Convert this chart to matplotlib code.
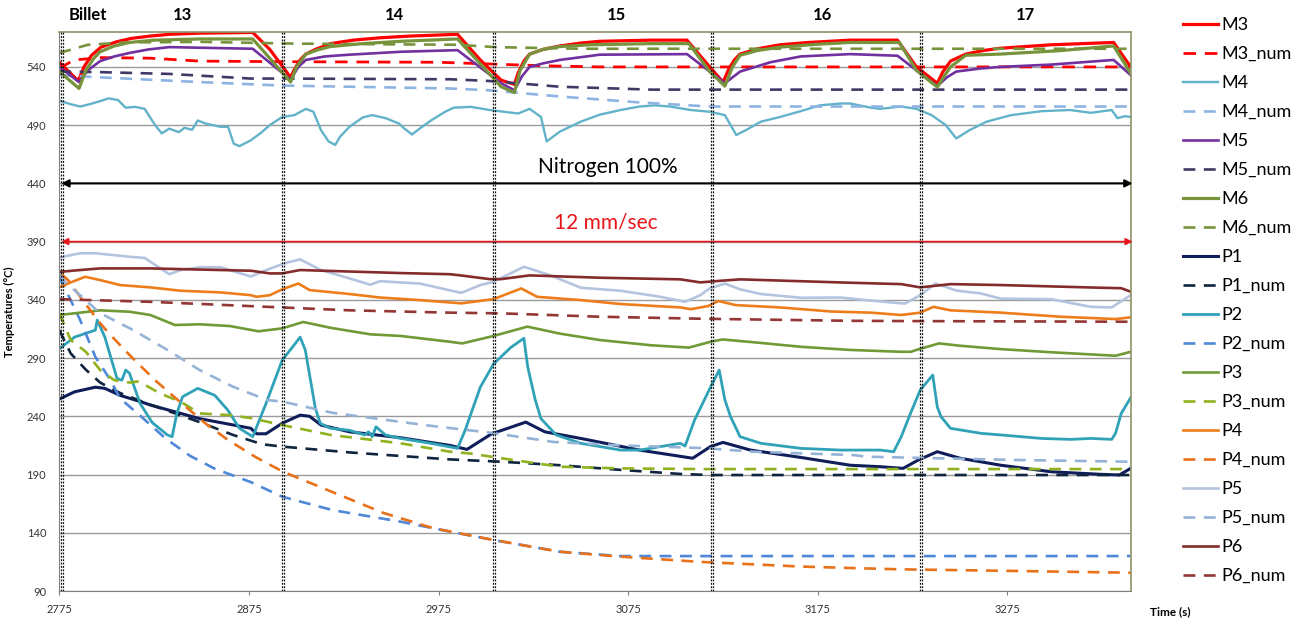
import matplotlib
matplotlib.use("Agg")
import matplotlib.pyplot as plt

plt.rcParams['font.family'] = ['Lato', 'DejaVu Sans']

# --- measured temperatures (time in s, temperature in degC) ---
m3_t = [2775, 2785, 2788, 2792, 2797, 2805, 2813, 2823, 2833, 2849, 2877, 2886, 2897,
        2899, 2902, 2905, 2910, 2918, 2930, 2944, 2960, 2985,
        2997, 3008, 3015, 3017, 3020, 3023, 3030, 3039, 3050, 3060, 3087, 3106,
        3118, 3125, 3128, 3131, 3134, 3143, 3155, 3170, 3192, 3217,
        3227, 3238, 3241, 3245, 3253, 3262, 3271, 3298, 3331, 3340]
m3 = [544, 528, 540, 550, 557, 561.5, 564.5, 566.5, 568, 569, 569.6, 555, 531,
      538, 546, 551, 555, 560, 563, 565, 566.5, 568,
      546, 528.6, 525, 535, 545, 551, 555, 558, 560.5, 562, 563, 563,
      540, 527, 538, 546, 551, 555.5, 559, 561, 563, 563,
      540, 526, 536, 545, 551, 554, 556, 559, 561, 540]

m4_t = [2775, 2781, 2786, 2791, 2796.5, 2801, 2806, 2810, 2815, 2820, 2825.5, 2829, 2833,
        2838, 2841, 2845, 2848, 2852, 2856, 2860, 2864, 2867, 2870, 2876, 2881, 2886,
        2892.5, 2899, 2905, 2909, 2913, 2917, 2920.5, 2923, 2928, 2935, 2940, 2947, 2954,
        2957, 2961, 2965, 2971, 2978.5, 2983, 2992, 3002, 3017, 3023, 3029, 3032, 3039,
        3050, 3060, 3071, 3081, 3089, 3097, 3108, 3118, 3126, 3132, 3137, 3145, 3155,
        3166, 3176, 3187, 3192, 3203, 3208, 3219, 3227, 3235, 3242.5, 3248, 3255, 3264,
        3277, 3293, 3308, 3319, 3330, 3333, 3337, 3340]
m4 = [511, 508, 506, 508, 510.6, 513, 511.5, 505, 505.7, 504, 490, 483, 487,
      484, 487.7, 486, 494, 491.5, 490, 488.6, 488.6, 474, 472, 477, 483, 490,
      497, 498.6, 504, 501.5, 485.7, 476, 473, 480, 488.6, 496.6, 498.6, 496, 491.5,
      487, 482, 487, 494, 501.5, 505, 505.7, 503, 500, 504, 497, 476, 484.5,
      493, 499, 503, 506, 507, 506, 503, 501.5, 498.6, 481.5, 485.7, 493, 497,
      502, 507, 508.6, 508.6, 505, 504, 506, 504, 498.6, 490, 478.6, 485.7, 493,
      498.6, 502, 503, 500.6, 503, 496, 497.7, 497]

m5_t = [2775, 2785.4, 2790, 2796.5, 2804, 2812, 2822, 2833, 2877, 2897, 2901, 2905, 2915,
        2928, 2955, 2985, 3008, 3015, 3019, 3023, 3030, 3039, 3060, 3106, 3126, 3130,
        3134, 3150, 3166, 3192, 3217, 3238, 3243, 3248, 3260, 3271, 3298, 3331, 3340]
m5 = [540, 527, 537, 545, 549, 552, 555, 557, 555.6, 529, 540, 546, 549,
      550.5, 553, 554.4, 526, 520, 532, 540, 543, 546, 550.5, 551, 526, 531,
      536, 544, 549, 551, 549.6, 523.5, 531, 536, 538.5, 540, 542, 546, 533]

m6_t = [2775, 2785.4, 2789, 2793, 2796.5, 2804, 2812, 2825, 2849, 2877, 2897, 2900, 2905,
        2911, 2918, 2935, 2955, 2985, 3008, 3015, 3018, 3023, 3030, 3039, 3055, 3087,
        3107, 3118, 3126, 3130, 3134, 3143, 3155, 3175, 3192, 3218, 3227, 3238, 3242,
        3245, 3253, 3271, 3303, 3331, 3340]
m6 = [536, 521.5, 537, 547, 553, 558, 561, 563, 564, 564, 527, 540, 551,
      554.5, 557.5, 560, 562, 564, 523, 518, 537, 551, 555, 557.5, 559, 560,
      560, 536, 523.5, 540, 550, 554, 557, 559.5, 561, 561, 537, 522.7, 533,
      540, 550, 551, 554, 558, 534.5]

p1_t = [2775, 2783, 2794, 2799, 2807, 2818, 2823, 2849, 2876, 2879, 2884, 2892.5, 2902,
        2907, 2913, 2928, 2955, 2981, 2990, 3003, 3021, 3031, 3050, 3081, 3109, 3118.4,
        3125, 3139.5, 3166, 3192, 3208, 3220, 3228, 3238, 3250, 3271.5, 3298, 3324,
        3334, 3340]
p1 = [254.8, 261, 265, 264, 258, 252.5, 249.7, 238, 229.7, 225, 225, 234, 241,
      240, 232.5, 226.7, 221.6, 215, 211.6, 225, 235, 226.7, 221, 211, 204, 214,
      217.6, 211, 204.7, 198, 196.7, 195.3, 202.5, 209.6, 204, 198, 192.4, 190.2,
      189.6, 195.3]

p2_t = [2775, 2783, 2794, 2795, 2799, 2805.4, 2808, 2810, 2812, 2817.6, 2824, 2832, 2834.5,
        2837, 2840, 2848, 2857, 2864, 2870, 2877, 2884, 2892.5, 2902, 2904.7, 2910,
        2912.6, 2918, 2928, 2936, 2938, 2940, 2942, 2947, 2955, 2971, 2985, 2989, 2997,
        3004, 3013, 3020, 3022, 3026, 3029, 3037, 3050, 3071, 3081, 3092, 3102.5, 3105,
        3110, 3118.4, 3123, 3126, 3129, 3134, 3145, 3166, 3187, 3208, 3215, 3219, 3224,
        3229, 3235.6, 3238, 3240, 3245, 3261, 3271.5, 3293, 3308.5, 3319, 3330, 3332,
        3335, 3340]
p2 = [298, 308, 314, 322.6, 308, 272.6, 271, 279.7, 277, 251, 234.6, 224, 222.5,
      242.5, 256.8, 264, 258, 245, 229.7, 222.5, 251, 288, 308, 297, 247,
      234, 229.7, 228, 224, 226.7, 222.5, 231, 224, 221, 216.8, 212.5, 228, 265,
      285, 299, 307, 282.5, 254, 238, 224, 216.8, 211, 211, 214, 216.8, 214.5,
      236.8, 265, 279.7, 254, 239.6, 222.5, 216.8, 212.5, 211, 211, 209.6, 222.5, 243,
      262.5, 275.4, 248, 239.6, 229.7, 225.4, 224, 221, 220.2, 221, 220.2, 225.4,
      242.5, 256]

p3_t = [2775, 2786, 2796.5, 2812, 2823, 2836, 2849, 2865, 2880, 2892.5, 2903.6, 2918, 2939,
        2955, 2981, 2987.5, 3004, 3021.8, 3039, 3060, 3087, 3107, 3118.4, 3124.7, 3145,
        3166, 3192, 3219, 3224, 3229, 3239, 3250, 3271.5, 3298, 3332, 3340]
p3 = [327, 329, 331, 329.8, 327, 318.4, 319, 317.5, 313, 315.5, 321, 316, 310.4,
      309, 304, 302.6, 309, 317, 311, 305.5, 301, 299, 304, 306, 303,
      299.7, 297, 295.4, 295.4, 298, 302.6, 300.6, 297.7, 295, 292, 295.4]

p4_t = [2775, 2780.6, 2788.6, 2796.5, 2807, 2823, 2839, 2860, 2876, 2879, 2886, 2892.5, 2901,
        2907, 2928, 2944, 2965, 2987, 3004, 3018.6, 3027, 3050, 3071, 3102.5, 3108, 3117,
        3122.6, 3131.6, 3155, 3182, 3203, 3219, 3229, 3236, 3245, 3271.5, 3303, 3332, 3340]
p4 = [350.7, 354.7, 359.8, 357, 352.7, 350.7, 347.8, 346.4, 344, 342.6, 344, 349, 354,
      348.4, 345, 342, 339.8, 337, 340.6, 349.8, 342.6, 339.8, 336.4, 333.5, 332, 334.6,
      339, 335.5, 333.5, 330, 329, 327, 329, 334, 331, 329, 325.5, 323.5, 325]

p5_t = [2775, 2786, 2794, 2812, 2820, 2833, 2839, 2849, 2860, 2876, 2884, 2895, 2902, 2913,
        2928, 2939, 2944, 2965, 2987, 2997, 3004, 3020, 3034, 3050, 3071, 3092, 3105, 3113,
        3118, 3126, 3134, 3145, 3166, 3187, 3200, 3219, 3221, 3229, 3237, 3248, 3261,
        3271.5, 3298, 3319, 3330, 3340]
p5 = [376.4, 380, 380, 377, 376, 362, 365.6, 368, 368, 360, 365.6, 372, 374.7, 365.6,
      358.4, 353, 356, 354, 346, 352.7, 355.5, 368.4, 361, 350.4, 347.8, 342.6, 338.3, 344,
      349.8, 354, 349, 345, 341.8, 342, 339.8, 337, 336.8, 344, 354, 348, 345.5,
      341, 340.6, 334, 333.5, 344]

p6_t = [2775, 2786, 2796.5, 2823, 2876, 2886, 2892.5, 2902, 2955, 2981, 2986.5, 3002, 3008,
        3023, 3060, 3102.5, 3113, 3124, 3134, 3192, 3219, 3229, 3245, 3271.5, 3324, 3335,
        3340]
p6 = [364, 365.6, 367, 367, 365, 362.7, 362.7, 365.6, 363, 362, 361, 357.8, 357.8,
      361, 359, 357.6, 355, 356.4, 357.6, 354.7, 353.5, 350.7, 353.5, 352.7, 350.4, 350,
      347]

# --- simulated temperatures ---
m3_num_t = [2775, 2783, 2797, 2823, 2849, 2892, 2975, 3030, 3060, 3340]
m3_num = [539, 546, 548, 547.5, 545, 544.5, 544, 541, 540, 540]

m4_num_t = [2775, 2797, 2849, 2892, 2981, 3001, 3039, 3081, 3118, 3340]
m4_num = [533, 531, 527, 524, 521.5, 520, 514.6, 509.5, 506, 506]

m5_num_t = [2775, 2797, 2833, 2876, 2892, 2981, 3001, 3039, 3087, 3340]
m5_num = [536, 535.5, 534, 530, 530, 529.4, 528, 523, 520.5, 520.5]

m6_num_t = [2775, 2790, 2810, 2850, 2900, 2985, 3005, 3050, 3340]
m6_num = [552, 559, 561, 561.5, 560, 559, 557, 555.6, 555.6]

p1_num_t = [2775, 2781, 2789, 2796.5, 2807, 2823, 2849, 2866.6, 2882, 2892.5, 2928, 2981,
            3008, 3039, 3071, 3102.5, 3118, 3340]
p1_num = [314, 294, 280, 269, 260, 250, 235, 224, 216, 214, 209, 203,
          201, 198, 194, 190.5, 189.6, 189.6]

p2_num_t = [2775, 2780.6, 2786, 2794, 2802, 2807, 2818, 2831, 2844, 2857, 2876, 2892.5,
            2919, 2955, 2981, 3004, 3039, 3071, 3340]
p2_num = [360, 341, 322.6, 291, 271, 255.4, 240, 221, 206, 195, 183.5, 171,
          159.5, 149.5, 141, 133.8, 123.7, 120, 120]

p3_num_t = [2775, 2781, 2789, 2796.5, 2804, 2812, 2817, 2828, 2839, 2849, 2865, 2876,
            2892.5, 2918, 2955, 2981, 2992, 3008, 3039, 3071, 3113, 3340]
p3_num = [328.4, 305.5, 295.4, 279.7, 271, 269, 270, 259.7, 252.5, 242.5, 241, 238.5,
          232.5, 224, 216.8, 209.6, 208, 204, 196.7, 195.3, 194.7, 194.7]

p4_num_t = [2776, 2779.6, 2788.6, 2796.5, 2801, 2813, 2825.5, 2839.6, 2852, 2864, 2878.5,
            2893, 2919, 2946, 2972, 3004, 3039, 3071, 3113, 3166, 3197.5, 3219, 3271.5, 3340]
p4_num = [362, 357, 337, 320, 311.5, 291, 271, 251, 234, 219.6, 205,
          192.4, 175, 157, 144, 133.8, 123.7, 119.5, 115, 111, 109.5, 108.6, 107.4, 105.7]

p5_num_t = [2775, 2778, 2796.5, 2814, 2832, 2849, 2866.6, 2884.6, 2893, 2919, 2970, 3004,
            3035.5, 3071, 3115, 3141, 3194, 3201, 3280, 3340]
p5_num = [362, 355.5, 328.6, 314, 297, 279.7, 265.4, 254, 252.5, 243, 232, 225.6,
          218, 215, 212.7, 209.6, 206.7, 205.3, 202.5, 201]

p6_num_t = [2775, 2823, 2876, 2928, 2981, 3008, 3060, 3113, 3192, 3219, 3340]
p6_num = [340.6, 338.3, 334.6, 331, 329, 328.4, 325.5, 323.8, 322, 321.8, 321.2]

# billet change times and labels
billet_changes = [2775.8, 2892.3, 3003.6, 3118.6, 3229.0]
billet_labels = ['Billet', '13', '14', '15', '16', '17']
billet_label_t = [2790, 2840, 2951.5, 3069, 3177.5, 3284.5]

# name, t, T, color, solid?, linewidth
series = [
    ('M3', m3_t, m3, '#FF0000', True, 2.3),
    ('M3_num', m3_num_t, m3_num, '#FF0000', False, 2.0),
    ('M4', m4_t, m4, '#62B3C9', True, 1.7),
    ('M4_num', m4_num_t, m4_num, '#8EB4E3', False, 1.9),
    ('M5', m5_t, m5, '#7030A0', True, 1.9),
    ('M5_num', m5_num_t, m5_num, '#403966', False, 1.9),
    ('M6', m6_t, m6, '#77933C', True, 2.3),
    ('M6_num', m6_num_t, m6_num, '#77933C', False, 1.9),
    ('P1', p1_t, p1, '#0F1E5A', True, 2.2),
    ('P1_num', p1_num_t, p1_num, '#0F243E', False, 1.9),
    ('P2', p2_t, p2, '#2FA2B8', True, 2.0),
    ('P2_num', p2_num_t, p2_num, '#4F88D8', False, 1.9),
    ('P3', p3_t, p3, '#6F9A35', True, 1.9),
    ('P3_num', p3_num_t, p3_num, '#8FB21E', False, 1.9),
    ('P4', p4_t, p4, '#ED7D1A', True, 1.9),
    ('P4_num', p4_num_t, p4_num, '#E8711A', False, 1.9),
    ('P5', p5_t, p5, '#B4C4DE', True, 1.9),
    ('P5_num', p5_num_t, p5_num, '#95B3D7', False, 1.9),
    ('P6', p6_t, p6, '#862B2B', True, 1.9),
    ('P6_num', p6_num_t, p6_num, '#943634', False, 1.9),
]

fig = plt.figure(figsize=(13.01, 6.21), dpi=100)
ax = fig.add_axes([0.0456, 0.0483, 0.8235, 0.9002])

for name, t, T, color, solid, lw in series:
    if solid:
        ax.plot(t, T, color=color, lw=lw, label=name, solid_joinstyle='round')
    else:
        ax.plot(t, T, color=color, lw=lw, label=name, dashes=(4.5, 3.2))

# billet boundaries (each drawn as a pair of dotted lines)
for tb in billet_changes:
    for off in (0.0, 1.1):
        ax.axvline(tb + off, color='#111111', lw=0.9, ls=(0, (1.5, 1.2)), zorder=5)

ax.set_xlim(2775, 3340)
ax.set_ylim(90, 570)
ax.set_yticks(range(90, 541, 50))
ax.set_xticks(range(2775, 3276, 100))
ax.yaxis.grid(True, color='#9a9a9a', lw=1.0)
ax.set_axisbelow(True)
ax.tick_params(axis='y', length=0, pad=9.5, labelsize=8, labelcolor='#333333')
ax.tick_params(axis='x', length=3, width=0.8, color='#808080', pad=6,
               labelsize=8, labelcolor='#333333')
for side in ('left', 'bottom'):
    ax.spines[side].set_color('#808080')
for side in ('top', 'right'):
    ax.spines[side].set_color('#8E9466')
    ax.spines[side].set_linewidth(1.2)

ax.set_ylabel('Temperatures (°C)', fontsize=8, fontweight='bold')
ax.yaxis.set_label_coords(-0.041, 0.5)
fig.text(1170 / 1301, 1 - 612 / 621, 'Time (s)', fontsize=8.5, fontweight='bold',
         ha='center', va='center')

# gas and ram speed annotations
ax.annotate('', xy=(3341, 440), xytext=(2776, 440), annotation_clip=False,
            arrowprops=dict(arrowstyle='<|-|>', color='black', lw=1.5,
                            shrinkA=0, shrinkB=0, mutation_scale=11))
ax.text(3064, 454, 'Nitrogen 100%', fontsize=15, ha='center', va='center')
ax.annotate('', xy=(3341, 390), xytext=(2776, 390), annotation_clip=False,
            arrowprops=dict(arrowstyle='<|-|>', color='#E8161B', lw=1.2,
                            shrinkA=0, shrinkB=0, mutation_scale=10))
ax.text(3063, 406, '12 mm/sec', fontsize=15, color='#E8161B', ha='center', va='center')

for lab, tx in zip(billet_labels, billet_label_t):
    ax.text(tx, 584.5, lab, fontsize=12, fontweight='bold', ha='center', va='center',
            clip_on=False)

ax.legend(loc='upper left', bbox_to_anchor=(1183 / 1301, 1 - 17 / 621),
          bbox_transform=fig.transFigure, frameon=False, fontsize=13,
          handlelength=1.95, handletextpad=0.2, labelspacing=0.72,
          borderpad=0, borderaxespad=0)

fig.savefig('out.png', dpi=100)
